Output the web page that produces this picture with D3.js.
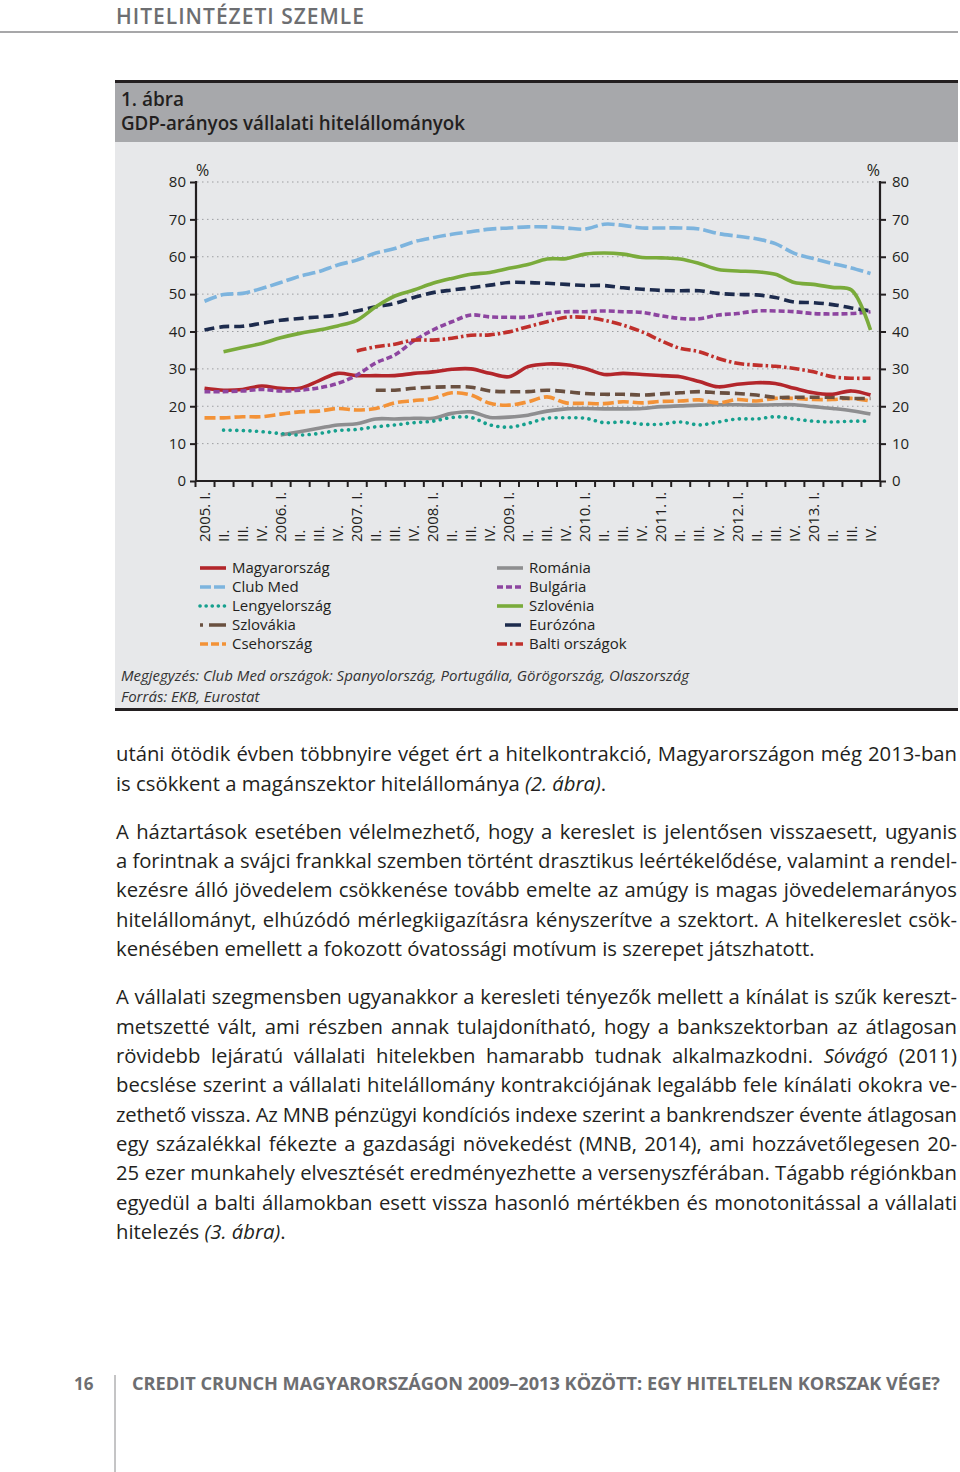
<!DOCTYPE html>
<html>
<head>
<meta charset="utf-8">
<script src="https://cdn.jsdelivr.net/npm/d3@7"></script>
<style>
  body { margin: 0; background: #fff; }
  svg { display: block; font-family: "Open Sans", sans-serif; }
</style>
</head>
<body>
<div id="page"></div>
<script>
// data: GDP-arányos vállalati hitelállományok, 2005 I - 2013 IV (%)
var years = [2005, 2006, 2007, 2008, 2009, 2010, 2011, 2012, 2013];
var romans = ["I.", "II.", "III.", "IV."];
var yTicks = [0, 10, 20, 30, 40, 50, 60, 70, 80];

var magyar = [24.8, 24.3, 24.5, 25.4, 24.8, 24.8, 26.8, 28.8, 28.2, 28.2, 28.2, 28.8, 29.2, 29.9, 30.0, 28.8, 27.9, 30.6, 31.3, 31.1, 30.1, 28.5, 28.8, 28.5, 28.2, 27.9, 26.6, 25.2, 25.9, 26.3, 26.1, 24.8, 23.6, 23.2, 24.1, 23.0];
var clubMed = [48.1, 49.9, 50.2, 51.5, 53.1, 54.8, 56.0, 57.8, 59.1, 61.0, 62.2, 64.0, 65.1, 66.0, 66.7, 67.4, 67.7, 68.0, 68.0, 67.7, 67.4, 68.7, 68.4, 67.7, 67.7, 67.7, 67.4, 66.2, 65.5, 64.8, 63.5, 60.9, 59.5, 58.2, 57.0, 55.5];
var lengyel = [null, 13.6, 13.5, 13.2, 12.7, 12.3, 12.7, 13.5, 13.8, 14.5, 15.0, 15.6, 16.0, 17.0, 17.0, 15.0, 14.4, 15.4, 16.8, 16.9, 16.8, 15.6, 15.8, 15.2, 15.2, 15.8, 15.0, 15.8, 16.6, 16.6, 17.2, 16.6, 16.0, 15.8, 16.0, 16.0];
var szlovakia = [null, null, null, null, null, null, null, null, null, 24.3, 24.3, 24.8, 25.1, 25.2, 25.1, 24.1, 23.9, 23.9, 24.3, 23.9, 23.4, 23.2, 23.2, 23.0, 23.3, 23.6, 23.9, 23.6, 23.4, 23.0, 22.4, 22.4, 22.4, 22.4, 22.1, 22.1];
var cseh = [16.9, 16.9, 17.2, 17.2, 17.9, 18.5, 18.7, 19.4, 19.0, 19.4, 20.9, 21.5, 22.1, 23.6, 23.0, 20.8, 20.3, 21.2, 22.5, 20.9, 20.8, 20.7, 21.2, 20.9, 21.3, 21.4, 21.7, 20.9, 21.8, 21.4, 22.1, 22.1, 21.8, 21.8, 22.1, 21.4];
var romania = [null, null, null, null, 12.3, 13.2, 14.1, 15.0, 15.3, 16.6, 16.6, 16.8, 16.8, 18.1, 18.5, 17.0, 17.1, 17.6, 18.7, 19.3, 19.4, 19.3, 19.3, 19.4, 19.9, 20.1, 20.3, 20.4, 20.4, 20.3, 20.4, 20.4, 19.9, 19.4, 18.8, 17.9];
var bulgaria = [23.9, 23.9, 24.1, 24.5, 24.1, 24.3, 24.9, 26.1, 28.3, 31.6, 33.7, 37.5, 40.4, 42.6, 44.4, 43.9, 43.8, 43.9, 44.8, 45.3, 45.3, 45.5, 45.3, 45.1, 44.2, 43.5, 43.4, 44.4, 44.8, 45.5, 45.5, 45.3, 44.8, 44.7, 44.8, 45.3];
var szlovenia = [null, 34.6, 35.7, 36.8, 38.3, 39.5, 40.4, 41.5, 43.0, 46.6, 49.5, 51.1, 52.9, 54.2, 55.3, 55.8, 56.9, 57.9, 59.4, 59.5, 60.7, 61.0, 60.7, 59.8, 59.7, 59.4, 58.2, 56.6, 56.2, 56.0, 55.3, 53.1, 52.6, 51.8, 51.1, 40.4];
var eurozona = [40.4, 41.3, 41.4, 42.2, 43.0, 43.5, 43.9, 44.4, 45.5, 46.6, 47.5, 49.1, 50.4, 51.1, 51.7, 52.4, 53.1, 53.1, 52.9, 52.6, 52.3, 52.3, 51.7, 51.3, 51.0, 50.9, 50.9, 50.2, 49.9, 49.8, 49.1, 47.9, 47.7, 47.2, 46.3, 45.5];
var balti = [null, null, null, null, null, null, null, null, 34.8, 35.9, 36.6, 37.7, 37.7, 38.2, 39.0, 39.1, 39.9, 41.3, 42.6, 43.8, 43.8, 43.0, 41.7, 39.9, 37.5, 35.5, 34.6, 32.8, 31.5, 31.0, 30.7, 30.1, 29.2, 27.9, 27.5, 27.5];

var quarterLabels = [];
years.forEach(function (y) {
  romans.forEach(function (r, k) { quarterLabels.push(k == 0 ? y + ". " + r : r); });
});

//styles
var series = [
  {name: "Magyarország", values: magyar, color: "#b3262b", dash: null, lDash: null},
  {name: "Club Med", values: clubMed, color: "#7db4de", dash: "13,4", lDash: "11,3"},
  {name: "Lengyelország", values: lengyel, color: "#16a08e", dash: "0.1,6.5", lDash: "0.1,6", round: true},
  {name: "Szlovákia", values: szlovakia, color: "#6a5040", dash: "10,5", lDash: "3,6,17"},
  {name: "Csehország", values: cseh, color: "#f39237", dash: "11,4", lDash: "8,3"},
  {name: "Románia", values: romania, color: "#8e8e90", dash: null, lDash: null},
  {name: "Bulgária", values: bulgaria, color: "#8d45a0", dash: "6,3", lDash: "6,3"},
  {name: "Szlovénia", values: szlovenia, color: "#7aab3b", dash: null, lDash: null},
  {name: "Eurózóna", values: eurozona, color: "#1d2b4d", dash: "10,5", lDash: "0,8,16,10"},
  {name: "Balti országok", values: balti, color: "#c0302c", dash: "10,3,2.5,3", lDash: "10,3,2.5,3"}
];
var drawOrder = [5, 2, 4, 3, 0, 6, 9, 8, 7, 1];

var textGray = "#6d6e71";
var ink = "#231f20";

var svg = d3.select("#page").append("svg")
  .attr("width", 960).attr("height", 1472);

// header
svg.append("text").attr("x", 116).attr("y", 24)
  .attr("font-size", 21).attr("font-weight", 600).attr("fill", textGray)
  .attr("textLength", 248).attr("lengthAdjust", "spacing")
  .text("HITELINTÉZETI SZEMLE");
svg.append("line").attr("x1", 0).attr("x2", 958).attr("y1", 32).attr("y2", 32)
  .attr("stroke", "#8a8a8c").attr("stroke-width", 1.5);

// figure box
svg.append("rect").attr("x", 115).attr("y", 83).attr("width", 843).attr("height", 59).attr("fill", "#a7a8ab");
svg.append("rect").attr("x", 115).attr("y", 142).attr("width", 843).attr("height", 567).attr("fill", "#e7e8ea");
svg.append("line").attr("x1", 115).attr("x2", 958).attr("y1", 81.5).attr("y2", 81.5).attr("stroke", ink).attr("stroke-width", 3);
svg.append("line").attr("x1", 115).attr("x2", 958).attr("y1", 709.5).attr("y2", 709.5).attr("stroke", ink).attr("stroke-width", 3);

svg.append("text").attr("x", 121).attr("y", 106).attr("font-size", 19).attr("font-weight", 600).attr("fill", ink).text("1. ábra");
svg.append("text").attr("x", 121).attr("y", 130).attr("font-size", 19).attr("font-weight", 600).attr("fill", ink)
  .attr("textLength", 344).attr("lengthAdjust", "spacingAndGlyphs")
  .text("GDP-arányos vállalati hitelállományok");

// chart
var xl = d3.scaleLinear().domain([0, 36]).range([195, 880]);
var y = d3.scaleLinear().domain([0, 80]).range([481, 182]);

var grid = svg.append("g");
grid.selectAll("line").data(yTicks.slice(1)).join("line")
  .attr("x1", 197).attr("x2", 879)
  .attr("y1", function (d) { return y(d); }).attr("y2", function (d) { return y(d); })
  .attr("stroke", "#9d9ea1").attr("stroke-width", 1).attr("stroke-dasharray", "1.5,3.5");

var line = d3.line()
  .defined(function (d) { return d != null; })
  .x(function (d, i) { return xl(i + 0.5); })
  .y(function (d) { return y(d); })
  .curve(d3.curveCatmullRom.alpha(0.5));

var lines = svg.append("g").attr("fill", "none");
drawOrder.forEach(function (k) {
  var s = series[k];
  lines.append("path")
    .attr("d", line(s.values))
    .attr("stroke", s.color)
    .attr("stroke-width", 3.6)
    .attr("stroke-linecap", s.round ? "round" : "butt")
    .attr("stroke-dasharray", s.dash);
});

var axisL = svg.append("g").attr("transform", "translate(196,0)")
  .call(d3.axisLeft(y).tickValues(yTicks).tickSize(6).tickPadding(4));
var axisR = svg.append("g").attr("transform", "translate(880,0)")
  .call(d3.axisRight(y).tickValues(yTicks).tickSize(6).tickPadding(6));
var axisB = svg.append("g").attr("transform", "translate(0,481)")
  .call(d3.axisBottom(xl).tickValues(d3.range(37)).tickSize(6).tickFormat(""));

[axisL, axisR, axisB].forEach(function (a) {
  a.attr("font-family", null).attr("font-size", 15);
  a.select(".domain").attr("stroke", ink).attr("stroke-width", 2.2);
  a.selectAll(".tick line").attr("stroke", ink).attr("stroke-width", 2);
  a.selectAll(".tick text").attr("fill", ink);
});
axisL.select(".domain").attr("d", "M0,181V481");
axisR.select(".domain").attr("d", "M0,181V481");
axisB.select(".domain").attr("d", "M195,0H881");

svg.append("text").attr("x", 196).attr("y", 176).attr("font-size", 16).attr("fill", ink).text("%");
svg.append("text").attr("x", 880).attr("y", 176).attr("text-anchor", "end").attr("font-size", 16).attr("fill", ink).text("%");

svg.append("g").selectAll("text").data(quarterLabels).join("text")
  .attr("transform", function (d, i) { return "translate(" + xl(i + 0.5) + ",542) rotate(-90)"; })
  .attr("dy", "0.35em")
  .attr("font-size", 15).attr("fill", ink)
  .text(function (d) { return d; });

// legend
var legend = svg.append("g");
series.forEach(function (s, i) {
  var col = Math.floor(i / 5), row = i % 5;
  var lx = col == 0 ? 200 : 497;
  var ly = 568 + row * 19;
  legend.append("line").attr("x1", lx).attr("x2", lx + 26).attr("y1", ly).attr("y2", ly)
    .attr("stroke", s.color).attr("stroke-width", 3.6)
    .attr("stroke-linecap", s.round ? "round" : "butt")
    .attr("stroke-dasharray", s.lDash);
  legend.append("text").attr("x", lx + 32).attr("y", ly).attr("dy", "0.35em")
    .attr("font-size", 15).attr("fill", ink).text(s.name);
});

svg.append("text").attr("x", 121).attr("y", 681).attr("font-size", 15).attr("font-style", "italic").attr("fill", "#333")
  .text("Megjegyzés: Club Med országok: Spanyolország, Portugália, Görögország, Olaszország");
svg.append("text").attr("x", 121).attr("y", 702).attr("font-size", 15).attr("font-style", "italic").attr("fill", "#333")
  .text("Forrás: EKB, Eurostat");

// body text, each line: [y, justified, [text, italic]...]
var bodyLines = [
  [754, true, [["utáni ötödik évben többnyire véget ért a hitelkontrakció, Magyarországon még 2013-ban"]]],
  [784, false, [["is csökkent a magánszektor hitelállománya "], ["(2. ábra)", 1], ["."]]],
  [832, true, [["A háztartások esetében vélelmezhető, hogy a kereslet is jelentősen visszaesett, ugyanis"]]],
  [861, true, [["a forintnak a svájci frankkal szemben történt drasztikus leértékelődése, valamint a rendel-"]]],
  [890, true, [["kezésre álló jövedelem csökkenése tovább emelte az amúgy is magas jövedelemarányos"]]],
  [920, true, [["hitelállományt, elhúzódó mérlegkiigazításra kényszerítve a szektort. A hitelkereslet csök-"]]],
  [949, false, [["kenésében emellett a fokozott óvatossági motívum is szerepet játszhatott."]]],
  [997, true, [["A vállalati szegmensben ugyanakkor a keresleti tényezők mellett a kínálat is szűk kereszt-"]]],
  [1027, true, [["metszetté vált, ami részben annak tulajdonítható, hogy a bankszektorban az átlagosan"]]],
  [1056, true, [["rövidebb lejáratú vállalati hitelekben hamarabb tudnak alkalmazkodni. "], ["Sóvágó", 1], [" (2011)"]]],
  [1085, true, [["becslése szerint a vállalati hitelállomány kontrakciójának legalább fele kínálati okokra ve-"]]],
  [1115, true, [["zethető vissza. Az MNB pénzügyi kondíciós indexe szerint a bankrendszer évente átlagosan"]]],
  [1144, true, [["egy százalékkal fékezte a gazdasági növekedést (MNB, 2014), ami hozzávetőlegesen 20-"]]],
  [1173, true, [["25 ezer munkahely elvesztését eredményezhette a versenyszférában. Tágabb régiónkban"]]],
  [1203, true, [["egyedül a balti államokban esett vissza hasonló mértékben és monotonitással a vállalati"]]],
  [1232, false, [["hitelezés "], ["(3. ábra)", 1], ["."]]]
];
var bodyWidth = 841;
var body = svg.append("g").attr("font-size", 20.3).attr("fill", ink);
bodyLines.forEach(function (l) {
  var t = body.append("text").attr("x", 116).attr("y", l[0] + 7).attr("xml:space", "preserve");
  var spaces = 0;
  l[2].forEach(function (p) {
    t.append("tspan").attr("font-style", p[1] ? "italic" : null).text(p[0]);
    spaces += (p[0].match(/ /g) || []).length;
  });
  if (l[1]) {
    // justify by stretching the word gaps
    var w = t.node().getComputedTextLength();
    var ws = (bodyWidth - w) / spaces;
    if (ws >= 0) t.attr("word-spacing", ws);
    else t.attr("textLength", bodyWidth).attr("lengthAdjust", "spacing");
  }
});

// footer
svg.append("text").attr("x", 74).attr("y", 1390).attr("font-size", 17).attr("font-weight", 700).attr("fill", textGray).text("16");
svg.append("line").attr("x1", 115).attr("x2", 115).attr("y1", 1375).attr("y2", 1472).attr("stroke", "#8a8a8c").attr("stroke-width", 1);
svg.append("text").attr("x", 132).attr("y", 1390).attr("font-size", 17).attr("font-weight", 700).attr("fill", textGray)
  .attr("textLength", 808).attr("lengthAdjust", "spacingAndGlyphs")
  .text("CREDIT CRUNCH MAGYARORSZÁGON 2009–2013 KÖZÖTT: EGY HITELTELEN KORSZAK VÉGE?");
</script>
</body>
</html>
